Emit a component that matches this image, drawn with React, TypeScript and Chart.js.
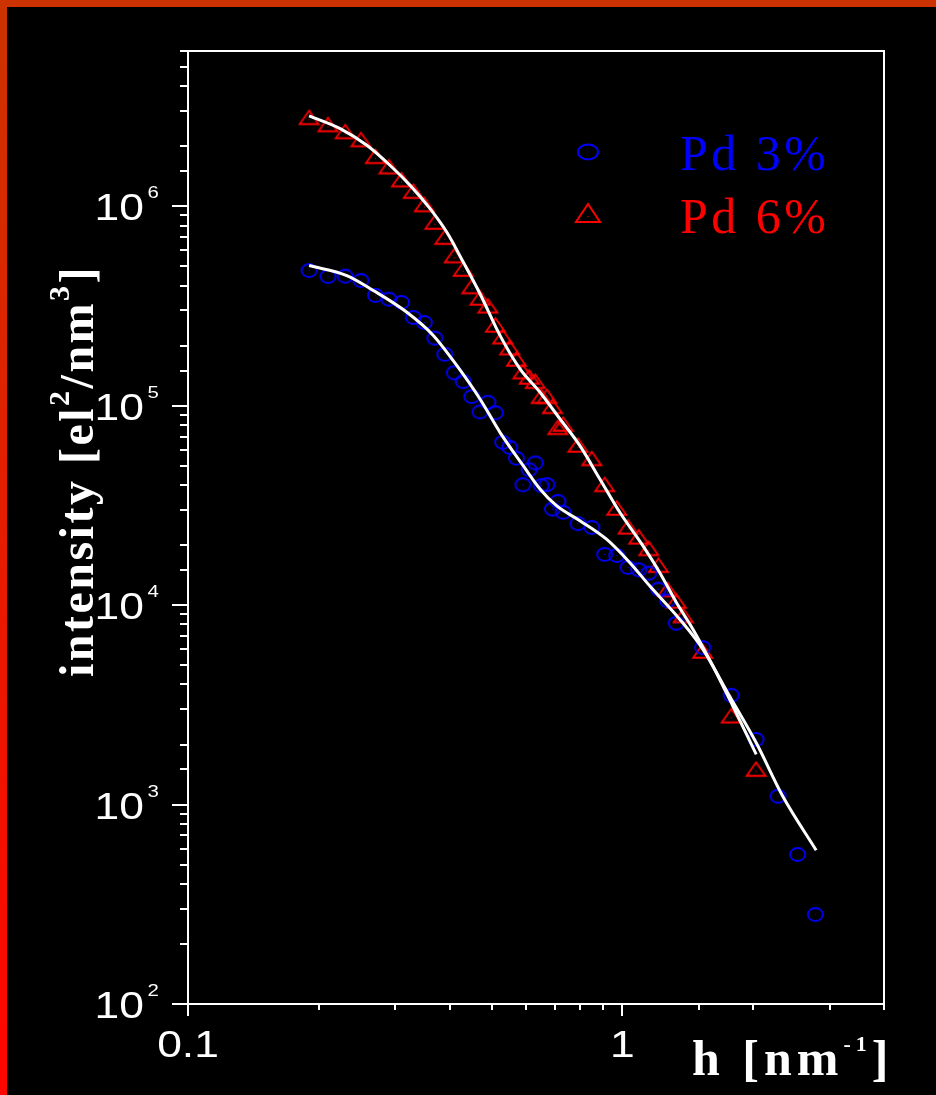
import React, { useEffect, useRef } from 'react';
import { Chart, registerables } from 'chart.js';

Chart.register(...registerables);

// ---- data ----
const seriesNames = ['Pd 3%', 'Pd 6%'];

const pd3H = [0.19, 0.21, 0.23, 0.25, 0.27, 0.29, 0.31, 0.33, 0.35, 0.37, 0.39, 0.41, 0.43, 0.45, 0.47, 0.49, 0.51, 0.53, 0.55, 0.57, 0.59, 0.61, 0.63, 0.65, 0.67, 0.69, 0.71, 0.73, 0.79, 0.85, 0.91, 0.97, 1.03, 1.09, 1.15, 1.21, 1.27, 1.33, 1.53, 1.78, 2.03, 2.28, 2.53, 2.78];
const pd3I = [4.76e5, 4.44e5, 4.46e5, 4.24e5, 3.57e5, 3.42e5, 3.29e5, 2.77e5, 2.61e5, 2.18e5, 1.81e5, 1.46e5, 1.32e5, 1.11e5, 9.3e4, 1.04e5, 9.21e4, 6.55e4, 6.18e4, 5.45e4, 4.01e4, 4.77e4, 5.16e4, 3.97e4, 4.02e4, 3.03e4, 3.31e4, 2.92e4, 2.56e4, 2.45e4, 1.795e4, 1.774e4, 1.544e4, 1.502e4, 1.446e4, 1.202e4, 1.05e4, 8.11e3, 6.12e3, 3.53e3, 2.12e3, 1.1e3, 562, 281];

const pd6H = [0.19, 0.21, 0.23, 0.25, 0.27, 0.29, 0.31, 0.33, 0.35, 0.37, 0.39, 0.41, 0.43, 0.45, 0.47, 0.49, 0.51, 0.53, 0.55, 0.57, 0.59, 0.61, 0.63, 0.65, 0.67, 0.69, 0.71, 0.73, 0.79, 0.85, 0.91, 0.97, 1.03, 1.09, 1.15, 1.21, 1.27, 1.33, 1.38, 1.53, 1.78, 2.03];
const pd6I = [2.79e6, 2.57e6, 2.37e6, 2.16e6, 1.78e6, 1.58e6, 1.36e6, 1.19e6, 1.02e6, 8.33e5, 7.0e5, 5.66e5, 4.84e5, 3.96e5, 3.47e5, 3.17e5, 2.54e5, 2.22e5, 1.955e5, 1.716e5, 1.482e5, 1.394e5, 1.326e5, 1.115e5, 1.115e5, 9.93e4, 7.79e4, 8.09e4, 6.35e4, 5.44e4, 4.03e4, 3.07e4, 2.47e4, 2.2e4, 1.926e4, 1.586e4, 1.198e4, 1.05e4, 8.87e3, 5.89e3, 2.79e3, 1.506e3];

const fit3H = [0.19, 0.232, 0.267, 0.319, 0.367, 0.4155, 0.47, 0.5225, 0.591, 0.646, 0.705, 0.798, 0.919, 1.039, 1.155, 1.354, 1.532, 1.764, 2.032, 2.339, 2.792];
const fit3I = [5.04e5, 4.49e5, 3.78e5, 2.94e5, 2.25e5, 1.59e5, 1.08e5, 7.35e4, 5.0e4, 3.82e4, 3.15e4, 2.65e4, 2.14e4, 1.636e4, 1.249e4, 8.5e3, 6.0e3, 3.5e3, 2.04e3, 1.1e3, 590];

const fit6H = [0.19, 0.224, 0.258, 0.292, 0.3246, 0.3607, 0.394, 0.43, 0.47, 0.5225, 0.581, 0.646, 0.718, 0.798, 0.887, 0.986, 1.115, 1.218, 1.331, 1.453, 1.615, 1.795, 2.032];
const fit6I = [2.84e6, 2.45e6, 2.02e6, 1.6e6, 1.272e6, 9.72e5, 7.42e5, 5.25e5, 3.64e5, 2.25e5, 1.53e5, 1.168e5, 8.58e4, 6.3e4, 4.29e4, 2.92e4, 1.98e4, 1.458e4, 1.031e4, 7.57e3, 4.95e3, 3.12e3, 1.784e3];

const xMin = 0.1;
const xMax = 4;
const yMin = 100;
const yMax = 6e6;
const xMajorTicks = [0.1, 1];
const xMajorLabels = ['0.1', '1'];
const yMajorTicks = [1e2, 1e3, 1e4, 1e5, 1e6];
const yMajorExp = ['2', '3', '4', '5', '6'];
const yTitleParts = [
  { text: 'intensity [el', sup: false },
  { text: '2', sup: true },
  { text: '/nm', sup: false },
  { text: '3', sup: true },
  { text: ']', sup: false },
];
const xTitleParts = [
  { text: 'h [nm', sup: false },
  { text: '-1', sup: true },
  { text: ']', sup: false },
];

const BLUE = '#0000ff';
const RED = '#ff0000';
const SANS = '"Liberation Sans", Arial, sans-serif';
const SERIF = '"Liberation Serif", "Times New Roman", serif';

const isPow10 = (v: number) => Math.abs(Math.log10(v) - Math.round(Math.log10(v))) < 1e-6;

function makeEllipse(color: string, rx: number, ry: number, lw: number) {
  const c = document.createElement('canvas');
  const w = Math.ceil(2 * rx + lw + 2);
  const h = Math.ceil(2 * ry + lw + 2);
  c.width = w;
  c.height = h;
  const g = c.getContext('2d')!;
  g.strokeStyle = color;
  g.lineWidth = lw;
  g.beginPath();
  g.ellipse(w / 2, h / 2, rx, ry, 0, 0, Math.PI * 2);
  g.stroke();
  g.fillStyle = color;
  g.fillRect(w / 2 - 0.5, h / 2 - 0.5, 1, 1);
  return c;
}

function makeTriangle(color: string, tw: number, th: number, lw: number) {
  const c = document.createElement('canvas');
  const w = Math.ceil(tw + lw + 2);
  const h = Math.ceil(th + lw + 2);
  c.width = w;
  c.height = h;
  const g = c.getContext('2d')!;
  g.strokeStyle = color;
  g.lineWidth = lw;
  g.lineJoin = 'miter';
  const cx = w / 2;
  const cy = h / 2;
  g.beginPath();
  g.moveTo(cx, cy - th / 2);
  g.lineTo(cx + tw / 2, cy + th / 2);
  g.lineTo(cx - tw / 2, cy + th / 2);
  g.closePath();
  g.stroke();
  g.fillStyle = color;
  g.fillRect(cx - 0.5, cy + th / 6 - 0.5, 1, 1);
  return c;
}

type Part = { text: string; sup: boolean };

function drawRich(ctx: CanvasRenderingContext2D, parts: Part[], x: number, y: number, align: string, baseFont: string, supFont: string, rise: number, spacing: string) {
  (ctx as any).letterSpacing = spacing;
  const widths: number[] = [];
  let total = 0;
  for (const p of parts) {
    ctx.font = p.sup ? supFont : baseFont;
    const w = ctx.measureText(p.text).width;
    widths.push(w);
    total += w;
  }
  let cx = align === 'center' ? x - total / 2 : align === 'right' ? x - total : x;
  ctx.textAlign = 'left';
  ctx.textBaseline = 'alphabetic';
  parts.forEach((p, i) => {
    ctx.font = p.sup ? supFont : baseFont;
    ctx.fillText(p.text, cx, p.sup ? y - rise : y);
    cx += widths[i];
  });
  (ctx as any).letterSpacing = '0px';
}

const backgroundPlugin = {
  id: 'bgFrame',
  beforeDraw(chart: any) {
    const { ctx, width, height } = chart;
    ctx.save();
    ctx.fillStyle = '#000';
    ctx.fillRect(0, 0, width, height);
    const grad = ctx.createLinearGradient(0, 0, 0, height);
    grad.addColorStop(0, '#cc3300');
    grad.addColorStop(1, '#ff0500');
    ctx.fillStyle = grad;
    ctx.fillRect(0, 0, 7, height);
    ctx.fillStyle = '#cc3300';
    ctx.fillRect(0, 0, width, 7);
    ctx.restore();
  },
};

const axesPlugin = {
  id: 'axesDecor',
  afterDraw(chart: any) {
    const { ctx, chartArea } = chart;
    const { left, right, top, bottom } = chartArea;
    const xs = chart.scales.x;
    const ys = chart.scales.y;
    ctx.save();
    ctx.strokeStyle = '#fff';
    ctx.fillStyle = '#fff';
    ctx.lineWidth = 2;
    ctx.strokeRect(left, top, right - left, bottom - top);

    // ticks from the library's scales
    ctx.beginPath();
    for (const t of ys.ticks) {
      const py = Math.round(ys.getPixelForValue(t.value));
      const len = isPow10(t.value) ? 16 : 8;
      ctx.moveTo(left - len, py);
      ctx.lineTo(left, py);
    }
    for (const t of xs.ticks) {
      const px = Math.round(xs.getPixelForValue(t.value));
      const len = isPow10(t.value) ? 12 : 6;
      ctx.moveTo(px, bottom);
      ctx.lineTo(px, bottom + len);
    }
    ctx.stroke();

    // y tick labels 10^n
    yMajorTicks.forEach((v, i) => {
      const py = ys.getPixelForValue(v);
      ctx.save();
      ctx.translate(144, py + 14);
      ctx.scale(1.2, 1);
      ctx.font = '37px ' + SANS;
      ctx.textAlign = 'right';
      ctx.textBaseline = 'alphabetic';
      ctx.fillText('10', 0, 0);
      ctx.restore();
      ctx.save();
      ctx.translate(147.5, py - 8);
      ctx.scale(1.2, 1);
      ctx.font = '17px ' + SANS;
      ctx.textAlign = 'left';
      ctx.fillText(yMajorExp[i], 0, 0);
      ctx.restore();
    });

    // x tick labels
    xMajorTicks.forEach((v, i) => {
      const px = xs.getPixelForValue(v);
      ctx.save();
      ctx.translate(px, 1057);
      ctx.scale(1.2, 1);
      ctx.font = '37px ' + SANS;
      ctx.textAlign = 'center';
      ctx.textBaseline = 'alphabetic';
      ctx.fillText(xMajorLabels[i], 0, 0);
      ctx.restore();
    });

    // axis titles
    ctx.save();
    ctx.translate(93, 471);
    ctx.rotate(-Math.PI / 2);
    drawRich(ctx, yTitleParts, 0, 0, 'center', 'bold 48px ' + SERIF, 'bold 30px ' + SERIF, 24, '2.5px');
    ctx.restore();

    drawRich(ctx, xTitleParts, 692, 1075, 'left', 'bold 50px ' + SERIF, 'bold 22px ' + SERIF, 24, '5px');

    // legend
    const legendItems = [
      { color: BLUE, y: 152, base: 170, shape: 'circle' },
      { color: RED, y: 213, base: 233, shape: 'triangle' },
    ];
    legendItems.forEach((it, i) => {
      ctx.strokeStyle = it.color;
      ctx.fillStyle = it.color;
      ctx.lineWidth = 2;
      ctx.beginPath();
      if (it.shape === 'circle') {
        ctx.ellipse(588, it.y, 10, 7.5, 0, 0, Math.PI * 2);
      } else {
        ctx.moveTo(588, it.y - 9);
        ctx.lineTo(600, it.y + 9);
        ctx.lineTo(576, it.y + 9);
        ctx.closePath();
      }
      ctx.stroke();
      ctx.fillRect(587.5, it.shape === 'circle' ? it.y - 0.5 : it.y + 3, 1, 1);
      (ctx as any).letterSpacing = '3.5px';
      ctx.font = '50px ' + SERIF;
      ctx.textAlign = 'left';
      ctx.textBaseline = 'alphabetic';
      ctx.fillText(seriesNames[i], 680, it.base);
      (ctx as any).letterSpacing = '0px';
    });
    ctx.restore();
  },
};

export default function App() {
  const ref = useRef<HTMLCanvasElement | null>(null);
  useEffect(() => {
    if (!ref.current) return;
    const circleImg = makeEllipse(BLUE, 7.5, 6.5, 1.8);
    const triImg = makeTriangle(RED, 19, 13.5, 1.8);
    const toPts = (xs: number[], ys: number[]) => xs.map((x, i) => ({ x, y: ys[i] }));
    const chart = new Chart(ref.current, {
      type: 'scatter',
      data: {
        datasets: [
          {
            type: 'line',
            label: 'fit 3%',
            data: toPts(fit3H, fit3I),
            borderColor: '#ffffff',
            borderWidth: 3,
            pointRadius: 0,
            fill: false,
            showLine: true,
            cubicInterpolationMode: 'monotone',
            order: 0,
          } as any,
          {
            type: 'line',
            label: 'fit 6%',
            data: toPts(fit6H, fit6I),
            borderColor: '#ffffff',
            borderWidth: 3,
            pointRadius: 0,
            fill: false,
            showLine: true,
            cubicInterpolationMode: 'monotone',
            order: 0,
          } as any,
          {
            label: seriesNames[0],
            data: toPts(pd3H, pd3I),
            pointStyle: circleImg as any,
            pointRadius: 8,
            borderColor: BLUE,
            backgroundColor: BLUE,
            order: 1,
          },
          {
            label: seriesNames[1],
            data: toPts(pd6H, pd6I),
            pointStyle: triImg as any,
            pointRadius: 8,
            borderColor: RED,
            backgroundColor: RED,
            order: 1,
          },
        ],
      },
      options: {
        responsive: false,
        animation: false,
        events: [],
        layout: { padding: { left: 188, right: 52, top: 51, bottom: 91 } },
        scales: {
          x: { type: 'logarithmic', min: xMin, max: xMax, display: false },
          y: { type: 'logarithmic', min: yMin, max: yMax, display: false },
        },
        plugins: { legend: { display: false }, tooltip: { enabled: false } },
      },
      plugins: [backgroundPlugin, axesPlugin],
    });
    return () => chart.destroy();
  }, []);
  return (
    <div style={{ position: 'absolute', left: 0, top: 0, width: 936, height: 1095, background: '#000' }}>
      <canvas ref={ref} width={936} height={1095} style={{ display: 'block' }} />
    </div>
  );
}
